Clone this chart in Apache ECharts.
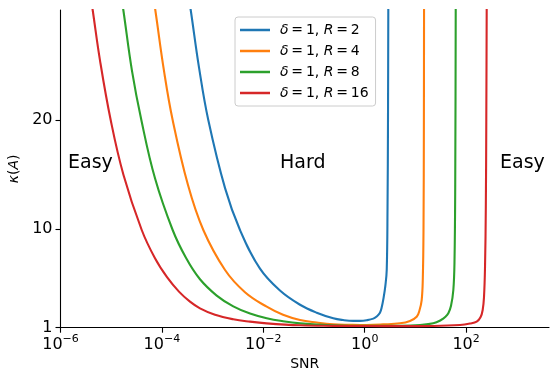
<!DOCTYPE html>
<html>
<head>
<meta charset="utf-8">
<script src="https://cdn.jsdelivr.net/npm/echarts@6/dist/echarts.min.js"></script>
<style>
html,body{margin:0;padding:0;background:#fff;}
#c{width:550px;height:371px;}
</style>
</head>
<body>
<div id="c"></div>
<script>
// ---- data ----
const seriesNames = ['2', '4', '8', '16'];           // R values (δ = 1)
const seriesColors = ['#1f77b4', '#ff7f0e', '#2ca02c', '#d62728'];

const snrR2 = [2.73e-4, 3.70e-4, 5.40e-4, 8.22e-4, 1.76e-3, 3.47e-3, 8.61e-3, 0.0213, 0.0530, 0.113, 0.240, 0.373, 0.596, 0.807, 1.094, 1.479, 1.75, 2.00, 2.16, 2.35, 2.55, 2.72, 2.82, 2.88, 2.92, 2.935];
const kapR2 = [34, 30.07, 24.8, 20, 13.77, 9.94, 6.4, 4.4, 3.1, 2.37, 1.86, 1.70, 1.62, 1.62, 1.68, 1.83, 2.05, 2.37, 2.85, 3.7, 4.8, 6.3, 12, 20, 30.07, 34];

const snrR4 = [5.52e-5, 7.41e-5, 1.10e-4, 1.63e-4, 3.27e-4, 6.56e-4, 1.76e-3, 4.35e-3, 0.01167, 0.0245, 0.0530, 0.113, 0.240, 0.513, 1.094, 2.30, 4.97, 7.82, 10.6, 12.05, 13.3, 14.0, 14.45, 14.7, 14.8, 14.85];
const kapR4 = [34, 30.07, 24.5, 20, 14.05, 9.94, 6.28, 4.25, 2.92, 2.18, 1.70, 1.47, 1.31, 1.27, 1.25, 1.30, 1.40, 1.62, 2.0, 2.6, 3.53, 5.5, 10, 20, 30.07, 34];

const snrR8 = [1.288e-5, 1.734e-5, 2.57e-5, 3.93e-5, 7.31e-5, 1.63e-4, 2.98e-4, 5.64e-4, 1.205e-3, 2.56e-3, 5.47e-3, 0.01167, 0.0245, 0.0530, 0.240, 1.094, 4.97, 12.3, 22.5, 32.0, 39.2, 44.6, 50.4, 56.0, 59.0, 61.0, 62.4, 62.6];
const kapR8 = [34, 30.07, 24.5, 20, 14.67, 9.94, 7.4, 5.43, 3.94, 2.95, 2.29, 1.86, 1.59, 1.40, 1.22, 1.17, 1.18, 1.25, 1.40, 1.7, 2.0, 2.32, 3.0, 4.45, 7, 14, 30.07, 34];

const snrR16 = [3.21e-6, 4.31e-6, 6.01e-6, 9.77e-6, 1.742e-5, 4.00e-5, 7.31e-5, 1.262e-4, 2.17e-4, 3.58e-4, 5.64e-4, 1.114e-3, 2.56e-3, 5.47e-3, 0.01167, 0.0530, 0.240, 1.094, 4.97, 22.2, 75.9, 119.4, 161.8, 192.3, 212.3, 225.4, 236, 244.8, 250.2, 254.7, 256.6];
const kapR16 = [34, 30.07, 25.46, 20, 15, 9.94, 7.35, 5.62, 4.3, 3.38, 2.77, 2.18, 1.77, 1.555, 1.40, 1.22, 1.17, 1.15, 1.14, 1.16, 1.25, 1.38, 1.55, 1.95, 2.62, 3.8, 6.5, 12, 20, 30.07, 34];

const xTickValues = [1e-6, 1e-4, 1e-2, 1, 100];
const xTickExps = ['\u22126', '\u22124', '\u22122', '0', '2'];
const yTickValues = [1, 10, 20];
const regionLabels = ['Easy', 'Hard', 'Easy'];
// ----------------------------------------------

const snrs = [snrR2, snrR4, snrR8, snrR16];
const kaps = [kapR2, kapR4, kapR8, kapR16];
const FONT = 'DejaVu Sans';

const chart = echarts.init(document.getElementById('c'), null, {renderer: 'canvas'});

const series = seriesNames.map((r, i) => ({
  name: 'R' + r,
  type: 'line',
  data: snrs[i].map((s, j) => [s, kaps[i][j]]),
  showSymbol: false,
  smooth: 0.4,
  clip: true,
  lineStyle: {color: seriesColors[i], width: 2.1},
  itemStyle: {color: seriesColors[i]},
  z: 2 + i
}));

const option = {
  animation: false,
  backgroundColor: '#ffffff',
  grid: {left: 60.5, top: 10, right: 1, bottom: 43.3, containLabel: false, outerBoundsMode: 'none'},
  xAxis: {
    type: 'log',
    logBase: 10,
    min: 1e-6,
    max: 4315,
    name: 'SNR',
    nameLocation: 'middle',
    nameGap: 30,
    nameTextStyle: {fontFamily: FONT, fontSize: 14, color: '#000'},
    axisLine: {show: true, lineStyle: {color: '#000', width: 1.1}},
    axisTick: {show: true, customValues: xTickValues, length: 5, lineStyle: {color: '#000', width: 1.1}},
    minorTick: {show: false},
    splitLine: {show: false},
    axisLabel: {
      customValues: xTickValues,
      margin: 7,
      color: '#000',
      fontFamily: FONT,
      formatter: (v) => {
        const idx = xTickValues.findIndex(t => Math.abs(Math.log10(t) - Math.log10(v)) < 1e-6);
        return '{b|10}{s|' + (idx >= 0 ? xTickExps[idx] : '') + '}';
      },
      rich: {
        b: {fontFamily: FONT, fontSize: 16, color: '#000', verticalAlign: 'bottom', lineHeight: 18},
        s: {fontFamily: FONT, fontSize: 11, color: '#000', verticalAlign: 'bottom', lineHeight: 18, padding: [0, 0, 8, 0]}
      }
    }
  },
  yAxis: {
    type: 'value',
    min: 1,
    max: 30.07,
    name: '{i|κ}({i|A})',
    nameLocation: 'middle',
    nameGap: 29,
    nameRotate: 90,
    nameTextStyle: {
      fontFamily: FONT, fontSize: 14, color: '#000',
      rich: {i: {fontFamily: FONT, fontSize: 14, fontStyle: 'italic', color: '#000'}}
    },
    axisLine: {show: true, lineStyle: {color: '#000', width: 1.1}},
    axisTick: {show: true, customValues: yTickValues, length: 5, lineStyle: {color: '#000', width: 1.1}},
    splitLine: {show: false},
    axisLabel: {customValues: yTickValues, margin: 8, color: '#000', fontFamily: FONT, fontSize: 16}
  },
  legend: {
    orient: 'vertical',
    left: 235,
    top: 17,
    padding: [5, 7, 5, 5],
    itemGap: 5,
    itemWidth: 30,
    itemHeight: 2.5,
    icon: 'rect',
    backgroundColor: 'rgba(255,255,255,0.85)',
    borderColor: '#cccccc',
    borderWidth: 1,
    borderRadius: 3,
    data: seriesNames.map(r => 'R' + r),
    formatter: (name) => '{i|δ}\u2009=\u20091, {i|R}\u2009=\u2009' + name.slice(1),
    textStyle: {
      fontFamily: FONT, fontSize: 14, color: '#000', lineHeight: 16, padding: [0, 0, 0, 5],
      rich: {i: {fontFamily: FONT, fontSize: 14, fontStyle: 'italic', color: '#000', lineHeight: 16}}
    }
  },
  graphic: [
    {type: 'text', left: 68, top: 154, style: {text: regionLabels[0], font: '19px "DejaVu Sans"', fill: '#000'}},
    {type: 'text', left: 280, top: 154, style: {text: regionLabels[1], font: '19px "DejaVu Sans"', fill: '#000'}},
    {type: 'text', left: 500, top: 154, style: {text: regionLabels[2], font: '19px "DejaVu Sans"', fill: '#000'}}
  ],
  series: series
};

chart.setOption(option);
</script>
</body>
</html>
